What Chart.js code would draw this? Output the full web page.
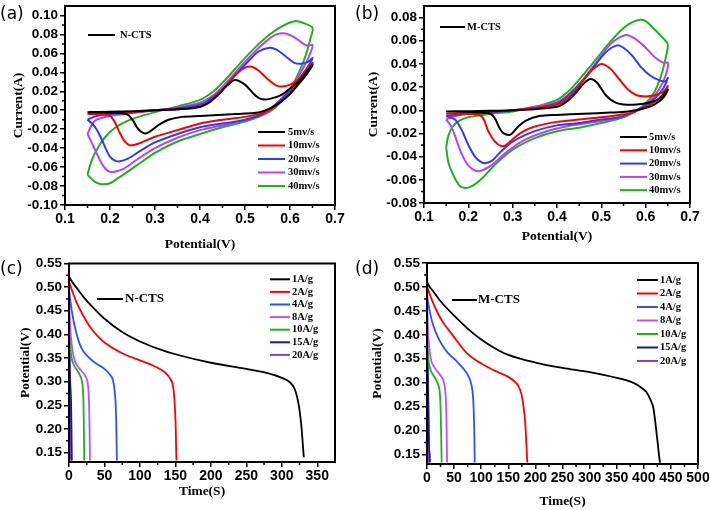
<!DOCTYPE html>
<html><head><meta charset="utf-8">
<script src="https://cdn.jsdelivr.net/npm/chart.js@4"></script>
<style>
body{margin:0;background:#fff;width:710px;height:510px;position:relative;overflow:hidden}
.p{position:absolute;width:355px;height:255px}
</style></head><body>
<div class="p" style="left:0;top:0"><canvas id="ca"></canvas></div>
<div class="p" style="left:355px;top:0"><canvas id="cb"></canvas></div>
<div class="p" style="left:0;top:255px"><canvas id="cc"></canvas></div>
<div class="p" style="left:355px;top:255px"><canvas id="cd"></canvas></div>
<script>
// ---------- DATA ----------
const cvScanRates = ['5mv/s','10mv/s','20mv/s','30mv/s','40mv/s'];
const gcdRates = ['1A/g','2A/g','4A/g','8A/g','10A/g','15A/g','20A/g'];

// (a) N-CTS cyclic voltammetry  [Potential V, Current A]
const cvN_5 = [[0.15,-0.002],[0.20,-0.0015],[0.25,-0.001],[0.30,0.000],[0.35,0.001],[0.40,0.0035],[0.42,0.008],[0.44,0.016],[0.46,0.026],[0.478,0.032],[0.50,0.027],[0.52,0.017],[0.535,0.012],[0.555,0.012],[0.58,0.016],[0.60,0.023],[0.62,0.031],[0.65,0.048],
 [0.64,0.040],[0.62,0.028],[0.60,0.017],[0.58,0.009],[0.56,0.003],[0.54,-0.001],[0.52,-0.003],[0.48,-0.004],[0.44,-0.005],[0.40,-0.006],[0.36,-0.007],[0.33,-0.010],[0.31,-0.015],[0.29,-0.022],[0.28,-0.0245],[0.27,-0.023],[0.26,-0.018],[0.25,-0.010],[0.24,-0.005],[0.22,-0.003],[0.18,-0.002],[0.15,-0.002]];
const cvN_10 = [[0.15,-0.004],[0.20,-0.003],[0.25,-0.002],[0.30,0.000],[0.35,0.001],[0.40,0.004],[0.42,0.009],[0.44,0.017],[0.46,0.027],[0.48,0.038],[0.50,0.045],[0.515,0.046],[0.53,0.042],[0.55,0.033],[0.57,0.026],[0.585,0.025],[0.60,0.027],[0.62,0.033],[0.65,0.050],
 [0.64,0.041],[0.62,0.030],[0.60,0.018],[0.58,0.009],[0.56,0.002],[0.54,-0.003],[0.50,-0.007],[0.45,-0.010],[0.40,-0.014],[0.35,-0.021],[0.30,-0.028],[0.27,-0.034],[0.25,-0.037],[0.24,-0.036],[0.23,-0.031],[0.22,-0.022],[0.21,-0.012],[0.20,-0.006],[0.18,-0.004],[0.15,-0.004]];
const cvN_20 = [[0.15,-0.010],[0.17,-0.006],[0.20,-0.004],[0.25,-0.002],[0.30,0.000],[0.35,0.002],[0.40,0.006],[0.42,0.011],[0.45,0.022],[0.48,0.038],[0.51,0.053],[0.53,0.062],[0.555,0.066],[0.57,0.064],[0.59,0.057],[0.61,0.050],[0.625,0.049],[0.64,0.051],[0.65,0.055],
 [0.64,0.046],[0.62,0.033],[0.60,0.021],[0.58,0.011],[0.56,0.003],[0.54,-0.004],[0.50,-0.010],[0.45,-0.014],[0.40,-0.018],[0.35,-0.025],[0.30,-0.034],[0.27,-0.042],[0.24,-0.051],[0.22,-0.054],[0.21,-0.053],[0.20,-0.049],[0.19,-0.040],[0.18,-0.029],[0.17,-0.020],[0.16,-0.014],[0.15,-0.010]];
const cvN_30 = [[0.15,-0.025],[0.16,-0.015],[0.17,-0.010],[0.20,-0.006],[0.25,-0.003],[0.30,0.000],[0.35,0.003],[0.40,0.008],[0.43,0.016],[0.46,0.030],[0.49,0.046],[0.52,0.061],[0.55,0.074],[0.57,0.080],[0.59,0.081],[0.61,0.077],[0.63,0.070],[0.64,0.068],[0.65,0.069],
 [0.645,0.060],[0.63,0.045],[0.61,0.029],[0.59,0.017],[0.57,0.007],[0.55,-0.002],[0.52,-0.008],[0.48,-0.013],[0.44,-0.017],[0.40,-0.021],[0.35,-0.029],[0.30,-0.040],[0.26,-0.052],[0.23,-0.062],[0.21,-0.065],[0.20,-0.065],[0.19,-0.062],[0.18,-0.055],[0.17,-0.045],[0.16,-0.035],[0.15,-0.025]];
const cvN_40 = [[0.15,-0.068],[0.16,-0.052],[0.175,-0.038],[0.19,-0.028],[0.21,-0.019],[0.24,-0.011],[0.27,-0.006],[0.30,-0.002],[0.35,0.004],[0.40,0.011],[0.43,0.020],[0.46,0.034],[0.49,0.050],[0.52,0.065],[0.55,0.078],[0.58,0.088],[0.61,0.094],[0.63,0.092],[0.65,0.087],
 [0.645,0.075],[0.635,0.058],[0.62,0.040],[0.60,0.022],[0.58,0.009],[0.56,0.000],[0.53,-0.007],[0.50,-0.012],[0.45,-0.018],[0.40,-0.025],[0.35,-0.033],[0.30,-0.045],[0.26,-0.058],[0.22,-0.071],[0.20,-0.077],[0.18,-0.078],[0.165,-0.075],[0.15,-0.068]];

// (b) M-CTS cyclic voltammetry
const cvM_5 = [[0.15,-0.001],[0.20,-0.0008],[0.25,-0.0005],[0.30,0.000],[0.35,0.001],[0.40,0.003],[0.42,0.007],[0.44,0.014],[0.46,0.023],[0.475,0.027],[0.49,0.024],[0.51,0.013],[0.53,0.007],[0.55,0.005],[0.58,0.005],[0.61,0.007],[0.63,0.010],[0.65,0.018],
 [0.64,0.011],[0.62,0.005],[0.60,0.002],[0.56,-0.001],[0.52,-0.002],[0.46,-0.003],[0.40,-0.004],[0.36,-0.005],[0.33,-0.009],[0.31,-0.015],[0.295,-0.021],[0.28,-0.020],[0.27,-0.015],[0.26,-0.007],[0.25,-0.003],[0.23,-0.002],[0.18,-0.001],[0.15,-0.001]];
const cvM_10 = [[0.15,-0.003],[0.20,-0.002],[0.25,-0.001],[0.30,0.000],[0.35,0.002],[0.40,0.005],[0.42,0.009],[0.44,0.016],[0.46,0.026],[0.48,0.035],[0.50,0.040],[0.52,0.036],[0.54,0.027],[0.56,0.018],[0.58,0.013],[0.60,0.012],[0.62,0.013],[0.64,0.016],[0.65,0.021],
 [0.64,0.014],[0.62,0.007],[0.60,0.003],[0.57,-0.002],[0.54,-0.004],[0.50,-0.006],[0.45,-0.008],[0.40,-0.010],[0.35,-0.014],[0.32,-0.019],[0.30,-0.025],[0.285,-0.030],[0.275,-0.031],[0.26,-0.027],[0.245,-0.018],[0.235,-0.008],[0.225,-0.004],[0.18,-0.003],[0.15,-0.003]];
const cvM_20 = [[0.15,-0.005],[0.20,-0.003],[0.25,-0.002],[0.30,0.000],[0.35,0.002],[0.40,0.006],[0.42,0.011],[0.45,0.022],[0.48,0.036],[0.51,0.050],[0.535,0.056],[0.55,0.054],[0.57,0.047],[0.59,0.037],[0.61,0.030],[0.63,0.026],[0.645,0.025],[0.65,0.028],
 [0.64,0.019],[0.62,0.010],[0.60,0.004],[0.57,-0.002],[0.54,-0.006],[0.50,-0.008],[0.45,-0.011],[0.40,-0.013],[0.35,-0.018],[0.30,-0.027],[0.27,-0.037],[0.255,-0.043],[0.24,-0.0455],[0.23,-0.045],[0.215,-0.040],[0.20,-0.030],[0.185,-0.017],[0.17,-0.008],[0.15,-0.005]];
const cvM_30 = [[0.15,-0.008],[0.17,-0.005],[0.20,-0.003],[0.25,-0.002],[0.30,0.000],[0.35,0.003],[0.40,0.007],[0.43,0.015],[0.46,0.027],[0.49,0.042],[0.52,0.057],[0.555,0.065],[0.575,0.062],[0.60,0.054],[0.62,0.046],[0.64,0.041],[0.65,0.041],
 [0.645,0.030],[0.63,0.018],[0.61,0.008],[0.59,0.002],[0.56,-0.004],[0.52,-0.008],[0.47,-0.011],[0.42,-0.014],[0.37,-0.019],[0.32,-0.027],[0.28,-0.038],[0.25,-0.048],[0.225,-0.0525],[0.21,-0.051],[0.195,-0.045],[0.18,-0.033],[0.17,-0.022],[0.16,-0.013],[0.15,-0.008]];
const cvM_40 = [[0.15,-0.032],[0.155,-0.022],[0.165,-0.014],[0.18,-0.009],[0.20,-0.006],[0.25,-0.003],[0.30,-0.001],[0.35,0.003],[0.40,0.009],[0.43,0.018],[0.46,0.031],[0.49,0.045],[0.52,0.059],[0.55,0.071],[0.57,0.076],[0.585,0.078],[0.60,0.077],[0.62,0.070],[0.64,0.062],[0.65,0.057],
 [0.645,0.045],[0.635,0.030],[0.62,0.016],[0.60,0.006],[0.58,0.000],[0.55,-0.006],[0.50,-0.011],[0.45,-0.015],[0.40,-0.018],[0.35,-0.024],[0.30,-0.034],[0.26,-0.047],[0.23,-0.059],[0.21,-0.065],[0.195,-0.067],[0.18,-0.065],[0.165,-0.055],[0.155,-0.045],[0.15,-0.032]];

// (c) N-CTS galvanostatic discharge  [Time s, Potential V]
const gcdN_1 = [[0,0.522],[5,0.51],[10,0.50],[20,0.48],[35,0.455],[50,0.433],[75,0.405],[100,0.385],[125,0.37],[150,0.358],[200,0.34],[250,0.327],[280,0.318],[300,0.308],[312,0.298],[318,0.285],[322,0.265],[325,0.24],[328,0.20],[330,0.16],[331,0.14]];
const gcdN_2 = [[0,0.512],[5,0.49],[10,0.47],[20,0.44],[30,0.415],[40,0.397],[50,0.383],[75,0.36],[100,0.345],[120,0.333],[135,0.32],[142,0.308],[146,0.295],[148,0.275],[149.5,0.24],[150.5,0.2],[151,0.16],[151.5,0.133]];
const gcdN_4 = [[0,0.495],[2,0.47],[5,0.44],[10,0.405],[15,0.38],[20,0.365],[30,0.348],[40,0.337],[50,0.327],[57,0.316],[62,0.303],[64,0.285],[65.5,0.26],[66.5,0.22],[67,0.18],[67.5,0.133]];
const gcdN_8 = [[0,0.45],[1,0.43],[3,0.39],[5,0.365],[8,0.345],[12,0.333],[18,0.322],[23,0.312],[26,0.30],[27.5,0.28],[28.5,0.24],[29,0.2],[29.5,0.133]];
const gcdN_10 = [[0,0.42],[1,0.395],[2,0.37],[4,0.348],[7,0.335],[11,0.325],[15,0.315],[18,0.303],[19.5,0.285],[20.5,0.25],[21,0.2],[21.5,0.133]];
const gcdN_15 = [[0,0.39],[0.5,0.35],[1,0.32],[2,0.29],[3,0.25],[3.5,0.2],[4,0.133]];
const gcdN_20 = [[0,0.55],[0.5,0.45],[1,0.38],[1.5,0.30],[2,0.22],[2.5,0.133]];

// (d) M-CTS galvanostatic discharge
const gcdM_1 = [[0,0.51],[5,0.50],[10,0.493],[25,0.47],[50,0.44],[75,0.413],[100,0.39],[125,0.372],[150,0.358],[200,0.342],[250,0.331],[300,0.322],[350,0.31],[380,0.30],[395,0.29],[405,0.28],[412,0.265],[418,0.245],[422,0.21],[426,0.17],[429,0.14],[430,0.133]];
const gcdM_2 = [[0,0.50],[5,0.485],[10,0.47],[20,0.445],[30,0.425],[40,0.41],[50,0.395],[75,0.36],[100,0.34],[125,0.325],[150,0.312],[160,0.304],[168,0.294],[174,0.277],[178,0.25],[181,0.22],[183,0.18],[185,0.133]];
const gcdM_4 = [[0,0.48],[5,0.45],[10,0.425],[20,0.395],[30,0.375],[40,0.36],[50,0.35],[60,0.338],[70,0.325],[78,0.31],[82,0.295],[85,0.27],[86.5,0.23],[87.5,0.18],[88,0.133]];
const gcdM_8 = [[0,0.44],[1,0.42],[3,0.39],[5,0.365],[8,0.345],[12,0.335],[18,0.325],[25,0.315],[30,0.305],[33,0.29],[35,0.26],[36,0.22],[37,0.133]];
const gcdM_10 = [[0,0.40],[1,0.375],[2,0.355],[4,0.338],[7,0.325],[12,0.315],[17,0.305],[21,0.295],[23.5,0.28],[25,0.25],[26,0.2],[27,0.133]];
const gcdM_15 = [[0,0.37],[1,0.33],[2,0.28],[3,0.22],[4,0.16],[5,0.15],[5.5,0.133]];
const gcdM_20 = [[0,0.55],[1,0.42],[2,0.30],[3,0.20],[3.5,0.133]];

const cvColors = ['#000000','#ff0000','#2f3cf0','#c040f0','#20b020'];
const gcdColors = ['#000000','#ff0000','#3050ff','#c050f0','#20b020','#1a1a90','#8040e8'];

// ---------- CHART BUILDING ----------
function pts(a){return a.map(p=>({x:p[0],y:p[1]}));}
const isMult=(v,s)=>Math.abs(v/s-Math.round(v/s))<1e-6;

const decor = {
  id:'decor',
  afterDraw(chart){
    const o = chart.options.plugins.decor;
    const {ctx, chartArea:a, scales} = chart;
    ctx.save();
    ctx.strokeStyle='#000'; ctx.lineWidth=1.5;
    const minors=(ax)=>{const r=[];const s=ax.minor;for(let v=Math.ceil(ax.min/s-1e-9)*s;v<ax.max-1e-9;v+=s){if(v>ax.min+1e-9&&!isMult(v,ax.step))r.push(v);}return r;};
    ctx.beginPath();
    minors(o.x).forEach(v=>{const px=scales.x.getPixelForValue(v);ctx.moveTo(px,a.bottom);ctx.lineTo(px,a.bottom+3);});
    minors(o.y).forEach(v=>{const py=scales.y.getPixelForValue(v);ctx.moveTo(a.left,py);ctx.lineTo(a.left-3,py);});
    ctx.stroke();
    ctx.lineWidth=2;
    ctx.strokeRect(a.left,a.top,a.right-a.left,a.bottom-a.top);
    ctx.fillStyle='#000'; ctx.textBaseline='middle'; ctx.textAlign='left';
    ctx.font='17px "DejaVu Sans"';
    ctx.fillText(o.label,0,15);
    const n=o.name;
    ctx.lineWidth=2; ctx.beginPath(); ctx.moveTo(n.x0,n.y); ctx.lineTo(n.x1,n.y); ctx.stroke();
    ctx.font='bold '+n.size+'px "Liberation Serif"';
    ctx.fillText(n.text,n.tx,n.y);
    const L=o.legend;
    ctx.font='bold '+L.size+'px "Liberation Serif"';
    chart.data.datasets.forEach((ds,i)=>{
      const y=L.y+i*L.dy;
      ctx.strokeStyle=ds.borderColor; ctx.lineWidth=2;
      ctx.beginPath(); ctx.moveTo(L.x0,y); ctx.lineTo(L.x1,y); ctx.stroke();
      ctx.fillStyle='#000'; ctx.fillText(ds.label,L.tx,y);
    });
    ctx.restore();
  }
};

function axis(ax, dim, isY){
  return {
    type:'linear', min:ax.min, max:ax.max,
    afterFit(s){ if(isY){s.width=dim;s.paddingTop=0;s.paddingBottom=0;} else {s.height=dim;s.paddingLeft=0;s.paddingRight=0;} },
    border:{display:false},
    grid:{display:true,drawOnChartArea:false,drawTicks:true,tickLength:5,lineWidth:1.5,color:'#000'},
    ticks:{stepSize:ax.step,includeBounds:false,padding:isY?2:1,color:'#000',autoSkip:false,maxRotation:0,minRotation:0,
      font:{family:'Liberation Sans',weight:'bold',size:isY?13.5:14},
      callback:(v)=>isMult(v,ax.step)?Number(v).toFixed(ax.dec):''},
    title:{display:true,text:ax.title,color:'#000',font:{family:'Liberation Serif',weight:'bold',size:13.5},
      padding:isY?{top:ax.tpad,bottom:0}:{top:0,bottom:ax.tpad}}
  };
}

function makeChart(p){
  const datasets=p.series.map((s,i)=>({
    label:p.labels[i], data:pts(s), borderColor:p.colors[i], backgroundColor:p.colors[i],
    showLine:true, pointRadius:0, borderWidth:p.lw, fill:false,
    tension:p.loop?0.3:0, cubicInterpolationMode:p.loop?'default':'monotone'
  }));
  new Chart(document.getElementById(p.id),{
    type:'scatter',
    data:{datasets},
    options:{
      responsive:true, maintainAspectRatio:false, animation:false,
      layout:{padding:{left:0,top:p.area.top,right:355-p.area.right,bottom:0}},
      scales:{ x:axis(p.x,255-p.area.bottom,false), y:axis(p.y,p.area.left,true) },
      plugins:{legend:{display:false},tooltip:{enabled:false},
        decor:{x:p.x,y:p.y,label:p.label,name:p.name,legend:p.legend}}
    },
    plugins:[decor]
  });
}

makeChart({id:'ca',area:{left:65,right:335,top:6,bottom:205},
  x:{min:0.1,max:0.7,step:0.1,minor:0.05,dec:1,title:'Potential(V)',tpad:2},
  y:{min:-0.10,max:0.11,step:0.02,minor:0.01,dec:2,title:'Current(A)',tpad:10},
  series:[cvN_5,cvN_10,cvN_20,cvN_30,cvN_40],labels:cvScanRates,colors:cvColors,loop:true,lw:2,
  label:'(a)',name:{text:'N-CTS',x0:88,x1:115,tx:120,y:35,size:10.5},
  legend:{x0:258,x1:285,tx:288,y:132,dy:13.5,size:10.5}});
makeChart({id:'cb',area:{left:69,right:335,top:6,bottom:203},
  x:{min:0.1,max:0.7,step:0.1,minor:0.05,dec:1,title:'Potential(V)',tpad:10},
  y:{min:-0.08,max:0.09,step:0.02,minor:0.01,dec:2,title:'Current(A)',tpad:10},
  series:[cvM_5,cvM_10,cvM_20,cvM_30,cvM_40],labels:cvScanRates,colors:cvColors,loop:true,lw:2,
  label:'(b)',name:{text:'M-CTS',x0:85,x1:110,tx:112,y:27,size:10.5},
  legend:{x0:265,x1:292,tx:294,y:137,dy:13.3,size:10.5}});
makeChart({id:'cc',area:{left:69,right:335,top:8.5,bottom:207},
  x:{min:0,max:375,step:50,minor:25,dec:0,title:'Time(S)',tpad:10},
  y:{min:0.13,max:0.55,step:0.05,minor:0.025,dec:2,title:'Potential(V)',tpad:17},
  series:[gcdN_1,gcdN_2,gcdN_4,gcdN_8,gcdN_10,gcdN_15,gcdN_20],labels:gcdRates,colors:gcdColors,loop:false,lw:1.8,
  label:'(c)',name:{text:'N-CTS',x0:97,x1:123,tx:125,y:44,size:13},
  legend:{x0:270,x1:290,tx:292,y:24.3,dy:12.6,size:10.5}});
makeChart({id:'cd',area:{left:72,right:343,top:8,bottom:209},
  x:{min:0,max:500,step:50,minor:25,dec:0,title:'Time(S)',tpad:0},
  y:{min:0.13,max:0.55,step:0.05,minor:0.025,dec:2,title:'Potential(V)',tpad:14},
  series:[gcdM_1,gcdM_2,gcdM_4,gcdM_8,gcdM_10,gcdM_15,gcdM_20],labels:gcdRates,colors:gcdColors,loop:false,lw:1.8,
  label:'(d)',name:{text:'M-CTS',x0:97,x1:122,tx:123,y:45,size:13},
  legend:{x0:282,x1:303,tx:305,y:25,dy:13.5,size:10.5}});
</script>
</body></html>
